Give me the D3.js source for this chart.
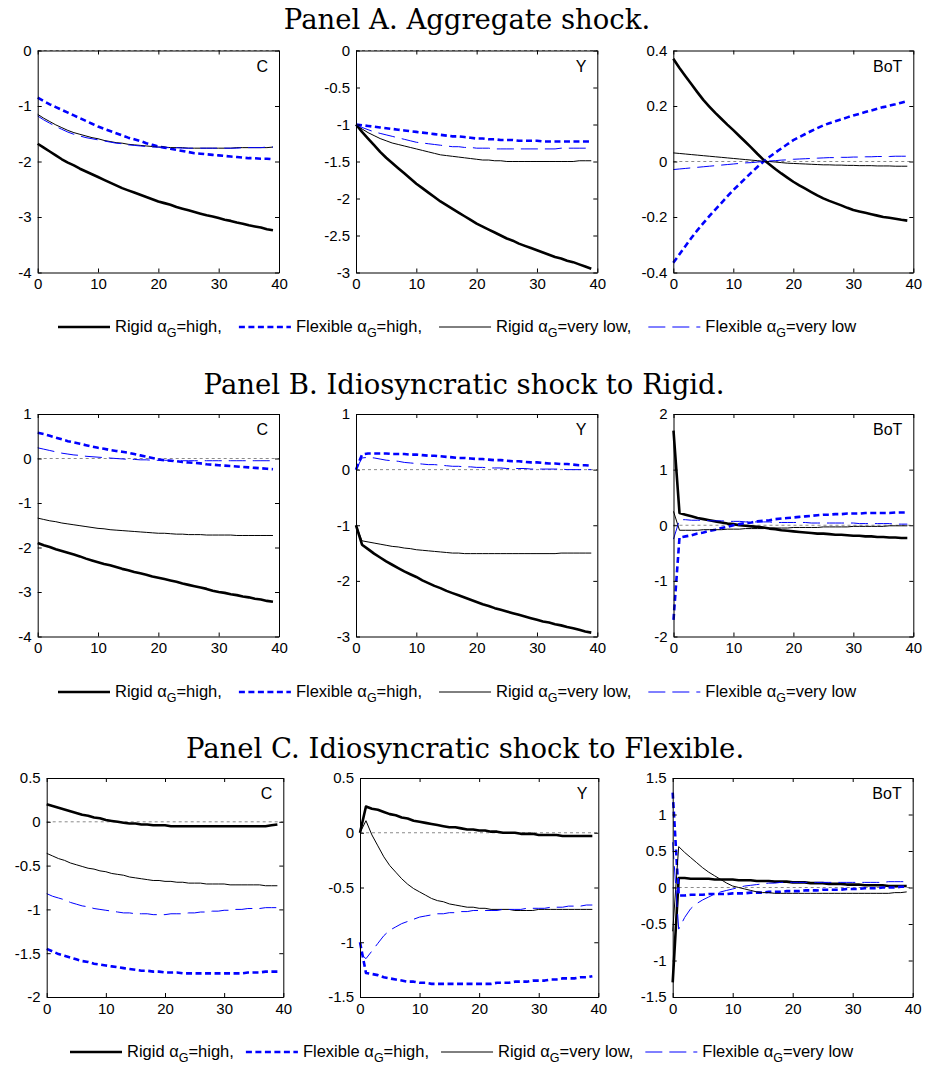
<!DOCTYPE html>
<html><head><meta charset="utf-8">
<script src="https://cdn.jsdelivr.net/npm/d3@7/dist/d3.min.js"></script>
<style>body{margin:0;background:#fff}svg{display:block}</style>
</head><body>
<svg id="chart" width="925" height="1067"></svg>
<script>
// ---------------- DATA ----------------
const periods = [0,1,2,3,4,5,6,7,8,9,10,11,12,13,14,15,16,17,18,19,20,21,22,23,24,25,26,27,28,29,30,31,32,33,34,35,36,37,38,39];
const panelTitles = ["Panel A. Aggregate shock.", "Panel B. Idiosyncratic shock to Rigid.", "Panel C. Idiosyncratic shock to Flexible."];
const variableNames = ["C", "Y", "BoT"];
const seriesNames = ["Rigid", "Flexible", "Rigid", "Flexible"];
const seriesCases = ["=high,", "=high,", "=very low,", "=very low"];
const xTicks = [0, 10, 20, 30, 40];

// y tick labels (first / last = axis limits)
const yTicksA_C = [-4, -3, -2, -1, 0];
const yTicksA_Y = [-3, -2.5, -2, -1.5, -1, -0.5, 0];
const yTicksA_BoT = [-0.4, -0.2, 0, 0.2, 0.4];
const yTicksB_C = [-4, -3, -2, -1, 0, 1];
const yTicksB_Y = [-3, -2, -1, 0, 1];
const yTicksB_BoT = [-2, -1, 0, 1, 2];
const yTicksC_C = [-2, -1.5, -1, -0.5, 0, 0.5];
const yTicksC_Y = [-1.5, -1, -0.5, 0, 0.5];
const yTicksC_BoT = [-1.5, -1, -0.5, 0, 0.5, 1, 1.5];

// Panel A: aggregate shock
const A_C_rigidHigh = [-1.68,-1.75,-1.82,-1.89,-1.96,-2.02,-2.07,-2.13,-2.18,-2.23,-2.28,-2.33,-2.38,-2.43,-2.48,-2.52,-2.56,-2.60,-2.64,-2.68,-2.72,-2.75,-2.78,-2.82,-2.85,-2.88,-2.91,-2.94,-2.97,-2.99,-3.02,-3.05,-3.07,-3.10,-3.12,-3.15,-3.17,-3.19,-3.22,-3.24];
const A_C_flexHigh = [-0.85,-0.91,-0.97,-1.02,-1.07,-1.12,-1.17,-1.22,-1.27,-1.32,-1.37,-1.41,-1.45,-1.49,-1.53,-1.57,-1.60,-1.63,-1.67,-1.70,-1.73,-1.75,-1.77,-1.79,-1.81,-1.83,-1.85,-1.86,-1.87,-1.88,-1.89,-1.90,-1.91,-1.92,-1.93,-1.94,-1.94,-1.95,-1.95,-1.96];
const A_C_rigidLow = [-1.15,-1.22,-1.28,-1.34,-1.39,-1.44,-1.48,-1.51,-1.54,-1.57,-1.59,-1.62,-1.64,-1.66,-1.67,-1.69,-1.70,-1.71,-1.72,-1.73,-1.74,-1.74,-1.75,-1.75,-1.75,-1.76,-1.76,-1.76,-1.76,-1.76,-1.76,-1.76,-1.76,-1.75,-1.75,-1.75,-1.75,-1.75,-1.75,-1.74];
const A_C_flexLow = [-1.18,-1.25,-1.31,-1.37,-1.42,-1.47,-1.51,-1.54,-1.57,-1.59,-1.61,-1.63,-1.65,-1.67,-1.68,-1.70,-1.71,-1.72,-1.73,-1.74,-1.74,-1.75,-1.75,-1.75,-1.76,-1.76,-1.76,-1.76,-1.76,-1.76,-1.76,-1.76,-1.76,-1.76,-1.75,-1.75,-1.75,-1.75,-1.74,-1.74];

const A_Y_rigidHigh = [-1.00,-1.10,-1.19,-1.28,-1.37,-1.45,-1.52,-1.59,-1.66,-1.73,-1.80,-1.86,-1.92,-1.98,-2.04,-2.09,-2.14,-2.19,-2.24,-2.29,-2.34,-2.38,-2.42,-2.46,-2.50,-2.54,-2.57,-2.61,-2.64,-2.67,-2.70,-2.73,-2.76,-2.79,-2.81,-2.84,-2.86,-2.89,-2.92,-2.95];
const A_Y_flexHigh = [-1.00,-1.01,-1.02,-1.03,-1.04,-1.05,-1.06,-1.07,-1.08,-1.09,-1.10,-1.11,-1.12,-1.13,-1.14,-1.15,-1.16,-1.16,-1.17,-1.18,-1.19,-1.19,-1.20,-1.20,-1.21,-1.21,-1.21,-1.22,-1.22,-1.22,-1.22,-1.23,-1.23,-1.23,-1.23,-1.23,-1.23,-1.23,-1.23,-1.23];
const A_Y_rigidLow = [-1.00,-1.06,-1.11,-1.15,-1.19,-1.22,-1.25,-1.27,-1.29,-1.31,-1.33,-1.35,-1.37,-1.39,-1.41,-1.42,-1.43,-1.44,-1.45,-1.46,-1.47,-1.48,-1.48,-1.49,-1.49,-1.50,-1.50,-1.50,-1.50,-1.50,-1.50,-1.50,-1.50,-1.50,-1.50,-1.50,-1.50,-1.49,-1.49,-1.49];
const A_Y_flexLow = [-1.00,-1.04,-1.07,-1.10,-1.12,-1.14,-1.16,-1.18,-1.20,-1.22,-1.24,-1.25,-1.26,-1.27,-1.28,-1.29,-1.30,-1.30,-1.31,-1.31,-1.32,-1.32,-1.32,-1.33,-1.33,-1.33,-1.33,-1.33,-1.33,-1.33,-1.33,-1.33,-1.33,-1.33,-1.32,-1.32,-1.32,-1.32,-1.32,-1.32];

const A_BoT_rigidHigh = [0.370,0.338,0.308,0.279,0.250,0.222,0.198,0.175,0.154,0.133,0.113,0.092,0.071,0.050,0.028,0.007,-0.010,-0.027,-0.043,-0.058,-0.073,-0.086,-0.098,-0.110,-0.122,-0.133,-0.142,-0.150,-0.158,-0.167,-0.175,-0.180,-0.185,-0.190,-0.195,-0.200,-0.203,-0.206,-0.210,-0.213];
const A_BoT_flexHigh = [-0.365,-0.335,-0.305,-0.276,-0.248,-0.222,-0.197,-0.173,-0.150,-0.126,-0.103,-0.082,-0.061,-0.040,-0.020,-0.001,0.016,0.032,0.047,0.062,0.077,0.088,0.099,0.110,0.120,0.130,0.138,0.145,0.152,0.159,0.166,0.172,0.178,0.184,0.190,0.196,0.201,0.206,0.212,0.218];
const A_BoT_rigidLow = [0.031,0.029,0.027,0.025,0.023,0.021,0.019,0.017,0.015,0.013,0.011,0.009,0.007,0.005,0.003,0.001,0.000,-0.002,-0.004,-0.006,-0.007,-0.008,-0.009,-0.010,-0.011,-0.012,-0.012,-0.013,-0.013,-0.014,-0.014,-0.015,-0.015,-0.015,-0.016,-0.016,-0.016,-0.017,-0.017,-0.017];
const A_BoT_flexLow = [-0.029,-0.027,-0.025,-0.023,-0.021,-0.019,-0.017,-0.015,-0.013,-0.011,-0.009,-0.007,-0.005,-0.004,-0.002,0.000,0.002,0.003,0.005,0.006,0.008,0.009,0.010,0.011,0.012,0.013,0.014,0.014,0.015,0.015,0.016,0.016,0.017,0.017,0.018,0.018,0.018,0.019,0.019,0.019];

// Panel B: idiosyncratic shock to Rigid
const B_C_rigidHigh = [-1.90,-1.95,-1.99,-2.04,-2.08,-2.12,-2.16,-2.20,-2.25,-2.29,-2.33,-2.37,-2.40,-2.44,-2.48,-2.51,-2.55,-2.58,-2.61,-2.65,-2.68,-2.71,-2.74,-2.77,-2.81,-2.84,-2.87,-2.90,-2.93,-2.97,-3.00,-3.02,-3.05,-3.07,-3.10,-3.12,-3.15,-3.17,-3.20,-3.22];
const B_C_flexHigh = [0.58,0.55,0.51,0.47,0.43,0.39,0.36,0.33,0.30,0.27,0.24,0.22,0.19,0.17,0.15,0.13,0.10,0.07,0.04,0.01,-0.02,-0.04,-0.05,-0.06,-0.08,-0.09,-0.10,-0.11,-0.13,-0.14,-0.15,-0.16,-0.17,-0.18,-0.19,-0.20,-0.21,-0.22,-0.23,-0.24];
const B_C_rigidLow = [-1.34,-1.37,-1.40,-1.42,-1.45,-1.47,-1.49,-1.51,-1.53,-1.55,-1.57,-1.58,-1.60,-1.61,-1.62,-1.63,-1.64,-1.65,-1.66,-1.67,-1.68,-1.68,-1.69,-1.70,-1.70,-1.71,-1.71,-1.71,-1.72,-1.72,-1.72,-1.72,-1.72,-1.73,-1.73,-1.73,-1.73,-1.73,-1.73,-1.73];
const B_C_flexLow = [0.24,0.21,0.18,0.15,0.12,0.10,0.08,0.07,0.05,0.04,0.03,0.02,0.01,0.00,-0.01,-0.02,-0.02,-0.03,-0.03,-0.04,-0.04,-0.04,-0.04,-0.05,-0.05,-0.05,-0.05,-0.05,-0.05,-0.05,-0.05,-0.05,-0.05,-0.05,-0.05,-0.05,-0.05,-0.05,-0.05,-0.05];

const B_Y_rigidHigh = [-1.00,-1.35,-1.43,-1.51,-1.58,-1.65,-1.71,-1.77,-1.83,-1.88,-1.93,-1.99,-2.04,-2.09,-2.13,-2.18,-2.22,-2.26,-2.30,-2.34,-2.38,-2.42,-2.45,-2.49,-2.52,-2.55,-2.58,-2.61,-2.64,-2.67,-2.70,-2.73,-2.75,-2.78,-2.80,-2.83,-2.85,-2.88,-2.91,-2.93];
const B_Y_flexHigh = [0.00,0.27,0.29,0.29,0.29,0.29,0.28,0.28,0.28,0.27,0.27,0.26,0.25,0.25,0.24,0.23,0.22,0.21,0.21,0.20,0.19,0.19,0.18,0.17,0.17,0.16,0.15,0.15,0.14,0.13,0.13,0.12,0.11,0.11,0.10,0.10,0.09,0.08,0.08,0.07];
const B_Y_rigidLow = [-1.00,-1.28,-1.30,-1.32,-1.34,-1.36,-1.38,-1.39,-1.41,-1.42,-1.44,-1.45,-1.46,-1.47,-1.48,-1.49,-1.50,-1.50,-1.51,-1.51,-1.51,-1.51,-1.51,-1.51,-1.51,-1.51,-1.51,-1.51,-1.51,-1.51,-1.51,-1.51,-1.51,-1.51,-1.50,-1.50,-1.50,-1.50,-1.50,-1.50];
const B_Y_flexLow = [0.00,0.21,0.22,0.21,0.19,0.17,0.16,0.15,0.13,0.12,0.11,0.10,0.09,0.09,0.08,0.07,0.06,0.06,0.05,0.05,0.04,0.04,0.03,0.03,0.03,0.02,0.02,0.02,0.02,0.01,0.01,0.01,0.01,0.01,0.01,0.00,0.00,0.00,0.00,0.00];

const B_BoT_rigidHigh = [1.70,0.22,0.19,0.16,0.13,0.11,0.09,0.07,0.05,0.03,0.02,0.00,-0.01,-0.02,-0.03,-0.04,-0.06,-0.07,-0.09,-0.10,-0.11,-0.12,-0.13,-0.14,-0.15,-0.15,-0.16,-0.17,-0.17,-0.18,-0.19,-0.19,-0.20,-0.20,-0.21,-0.21,-0.22,-0.22,-0.23,-0.23];
const B_BoT_flexHigh = [-1.70,-0.22,-0.20,-0.18,-0.15,-0.13,-0.10,-0.08,-0.05,-0.03,0.00,0.02,0.04,0.05,0.07,0.08,0.09,0.11,0.12,0.13,0.14,0.15,0.16,0.17,0.18,0.19,0.19,0.20,0.20,0.21,0.21,0.21,0.22,0.22,0.22,0.22,0.22,0.23,0.23,0.23];
const B_BoT_rigidLow = [0.25,-0.09,-0.09,-0.09,-0.09,-0.08,-0.08,-0.08,-0.08,-0.07,-0.07,-0.07,-0.06,-0.06,-0.06,-0.06,-0.05,-0.05,-0.05,-0.05,-0.04,-0.04,-0.04,-0.04,-0.04,-0.03,-0.03,-0.03,-0.03,-0.03,-0.02,-0.02,-0.02,-0.02,-0.02,-0.02,-0.01,-0.01,-0.01,-0.01];
const B_BoT_flexLow = [-0.25,0.10,0.10,0.09,0.09,0.09,0.08,0.08,0.08,0.07,0.07,0.07,0.06,0.06,0.06,0.06,0.06,0.05,0.05,0.05,0.05,0.05,0.05,0.04,0.04,0.04,0.04,0.04,0.04,0.04,0.04,0.03,0.03,0.03,0.03,0.03,0.03,0.02,0.02,0.02];

// Panel C: idiosyncratic shock to Flexible
const C_C_rigidHigh = [0.20,0.18,0.16,0.14,0.12,0.10,0.08,0.07,0.05,0.04,0.02,0.01,0.00,-0.01,-0.02,-0.02,-0.03,-0.03,-0.04,-0.04,-0.04,-0.05,-0.05,-0.05,-0.05,-0.05,-0.05,-0.05,-0.05,-0.05,-0.05,-0.05,-0.05,-0.05,-0.05,-0.05,-0.05,-0.05,-0.04,-0.03];
const C_C_flexHigh = [-1.45,-1.48,-1.51,-1.53,-1.55,-1.57,-1.59,-1.60,-1.62,-1.63,-1.64,-1.65,-1.66,-1.67,-1.68,-1.69,-1.70,-1.70,-1.71,-1.71,-1.72,-1.72,-1.72,-1.73,-1.73,-1.73,-1.73,-1.73,-1.73,-1.73,-1.73,-1.73,-1.73,-1.73,-1.72,-1.72,-1.72,-1.71,-1.71,-1.71];
const C_C_rigidLow = [-0.36,-0.39,-0.42,-0.44,-0.47,-0.49,-0.51,-0.53,-0.54,-0.56,-0.57,-0.59,-0.60,-0.61,-0.63,-0.64,-0.65,-0.66,-0.67,-0.67,-0.68,-0.68,-0.69,-0.69,-0.70,-0.70,-0.70,-0.71,-0.71,-0.71,-0.71,-0.72,-0.72,-0.72,-0.72,-0.72,-0.72,-0.73,-0.73,-0.73];
const C_C_flexLow = [-0.82,-0.85,-0.87,-0.89,-0.92,-0.94,-0.96,-0.97,-0.99,-1.00,-1.01,-1.02,-1.03,-1.04,-1.04,-1.05,-1.05,-1.05,-1.06,-1.06,-1.06,-1.05,-1.05,-1.05,-1.04,-1.04,-1.03,-1.03,-1.02,-1.02,-1.01,-1.01,-1.00,-1.00,-0.99,-0.99,-0.99,-0.98,-0.98,-0.98];

const C_Y_rigidHigh = [0.00,0.24,0.22,0.21,0.19,0.17,0.16,0.14,0.13,0.11,0.10,0.09,0.08,0.07,0.06,0.05,0.05,0.04,0.03,0.03,0.02,0.02,0.01,0.01,0.00,0.00,0.00,-0.01,-0.01,-0.01,-0.02,-0.02,-0.02,-0.02,-0.03,-0.03,-0.03,-0.03,-0.03,-0.03];
const C_Y_flexHigh = [-1.00,-1.28,-1.29,-1.30,-1.32,-1.33,-1.34,-1.35,-1.36,-1.36,-1.37,-1.37,-1.38,-1.38,-1.38,-1.38,-1.38,-1.38,-1.38,-1.38,-1.38,-1.38,-1.38,-1.37,-1.37,-1.37,-1.36,-1.36,-1.36,-1.35,-1.35,-1.35,-1.34,-1.34,-1.33,-1.33,-1.33,-1.32,-1.32,-1.31];
const C_Y_rigidLow = [0.00,0.11,-0.02,-0.12,-0.22,-0.30,-0.36,-0.42,-0.47,-0.51,-0.54,-0.57,-0.60,-0.62,-0.63,-0.65,-0.66,-0.67,-0.68,-0.68,-0.69,-0.69,-0.70,-0.70,-0.70,-0.70,-0.71,-0.71,-0.71,-0.71,-0.70,-0.70,-0.70,-0.70,-0.70,-0.70,-0.70,-0.70,-0.70,-0.70];
const C_Y_flexLow = [-1.10,-1.15,-1.08,-1.01,-0.94,-0.89,-0.86,-0.83,-0.81,-0.79,-0.77,-0.76,-0.75,-0.74,-0.74,-0.73,-0.73,-0.72,-0.72,-0.71,-0.71,-0.71,-0.71,-0.71,-0.70,-0.70,-0.70,-0.70,-0.69,-0.69,-0.69,-0.69,-0.68,-0.68,-0.68,-0.67,-0.67,-0.67,-0.66,-0.66];

const C_BoT_rigidHigh = [-1.30,0.13,0.13,0.12,0.12,0.12,0.12,0.11,0.11,0.11,0.11,0.10,0.10,0.10,0.09,0.09,0.09,0.08,0.08,0.08,0.07,0.07,0.07,0.06,0.06,0.06,0.05,0.05,0.05,0.04,0.04,0.04,0.03,0.03,0.03,0.03,0.02,0.02,0.02,0.02];
const C_BoT_flexHigh = [1.30,-0.11,-0.11,-0.10,-0.10,-0.10,-0.09,-0.09,-0.09,-0.09,-0.08,-0.08,-0.08,-0.07,-0.07,-0.07,-0.06,-0.06,-0.06,-0.05,-0.05,-0.05,-0.04,-0.04,-0.04,-0.03,-0.03,-0.03,-0.03,-0.02,-0.02,-0.02,-0.01,-0.01,-0.01,0.00,0.00,0.00,0.01,0.01];
const C_BoT_rigidLow = [-0.60,0.56,0.48,0.41,0.34,0.27,0.21,0.16,0.11,0.06,0.02,0.00,-0.02,-0.04,-0.06,-0.07,-0.07,-0.08,-0.08,-0.08,-0.08,-0.08,-0.08,-0.08,-0.08,-0.08,-0.08,-0.08,-0.08,-0.08,-0.08,-0.08,-0.08,-0.08,-0.08,-0.08,-0.08,-0.07,-0.07,-0.06];
const C_BoT_flexLow = [0.62,-0.57,-0.41,-0.29,-0.22,-0.17,-0.13,-0.09,-0.06,-0.04,-0.02,0.00,0.02,0.03,0.04,0.05,0.06,0.06,0.07,0.07,0.07,0.07,0.07,0.07,0.07,0.07,0.07,0.07,0.07,0.07,0.07,0.07,0.07,0.07,0.07,0.07,0.08,0.08,0.08,0.08];

// ---------------- STRUCTURE ----------------
const panels = [
  { title: panelTitles[0], plots: [
    { name: variableNames[0], ticks: yTicksA_C, series: [A_C_rigidHigh, A_C_flexHigh, A_C_rigidLow, A_C_flexLow] },
    { name: variableNames[1], ticks: yTicksA_Y, series: [A_Y_rigidHigh, A_Y_flexHigh, A_Y_rigidLow, A_Y_flexLow] },
    { name: variableNames[2], ticks: yTicksA_BoT, series: [A_BoT_rigidHigh, A_BoT_flexHigh, A_BoT_rigidLow, A_BoT_flexLow] } ] },
  { title: panelTitles[1], plots: [
    { name: variableNames[0], ticks: yTicksB_C, series: [B_C_rigidHigh, B_C_flexHigh, B_C_rigidLow, B_C_flexLow] },
    { name: variableNames[1], ticks: yTicksB_Y, series: [B_Y_rigidHigh, B_Y_flexHigh, B_Y_rigidLow, B_Y_flexLow] },
    { name: variableNames[2], ticks: yTicksB_BoT, series: [B_BoT_rigidHigh, B_BoT_flexHigh, B_BoT_rigidLow, B_BoT_flexLow] } ] },
  { title: panelTitles[2], plots: [
    { name: variableNames[0], ticks: yTicksC_C, series: [C_C_rigidHigh, C_C_flexHigh, C_C_rigidLow, C_C_flexLow] },
    { name: variableNames[1], ticks: yTicksC_Y, series: [C_Y_rigidHigh, C_Y_flexHigh, C_Y_rigidLow, C_Y_flexLow] },
    { name: variableNames[2], ticks: yTicksC_BoT, series: [C_BoT_rigidHigh, C_BoT_flexHigh, C_BoT_rigidLow, C_BoT_flexLow] } ] }
];

// ---------------- LAYOUT / STYLE ----------------
const rowLayout = [
  { titleX: 467, titleY: 29, top: 50.5, bottom: 272.5, cols: [[37.7, 279], [356, 597.3], [673.3, 913.3]], legendX: 58, legendY: 327, legendGap: 17 },
  { titleX: 464, titleY: 394, top: 414, bottom: 636.5, cols: [[37.7, 279], [356, 597.3], [673.5, 913.3]], legendX: 58, legendY: 692, legendGap: 17 },
  { titleX: 465, titleY: 758, top: 778, bottom: 997, cols: [[46.7, 283.3], [360, 598.3], [672.7, 912.7]], legendX: 70, legendY: 1052, legendGap: 12 }
];
const seriesStyle = [
  { color: "#000000", width: 2.6, dash: null },
  { color: "#0000ff", width: 2.6, dash: "6,3.5" },
  { color: "#000000", width: 1, dash: null },
  { color: "#0000ff", width: 1, dash: "17,7" }
];
const sansFont = "Liberation Sans, Arial, sans-serif";
const serifFont = "DejaVu Serif, Liberation Serif, serif";

const svg = d3.select("#chart");

panels.forEach((panel, r) => {
  const L = rowLayout[r];
  svg.append("text").attr("x", L.titleX).attr("y", L.titleY)
    .attr("text-anchor", "middle").attr("font-family", serifFont)
    .attr("font-size", 27.5).attr("fill", "#000").text(panel.title);

  panel.plots.forEach((p, c) => {
    const [x0, x1] = L.cols[c];
    const x = d3.scaleLinear().domain([xTicks[0], xTicks[xTicks.length - 1]]).range([x0, x1]);
    const y = d3.scaleLinear().domain([p.ticks[0], p.ticks[p.ticks.length - 1]]).range([L.bottom, L.top]);
    const g = svg.append("g");

    // zero reference line
    g.append("line").attr("x1", x0).attr("x2", x1).attr("y1", y(0)).attr("y2", y(0))
      .attr("stroke", "#8a8a8a").attr("stroke-width", 1).attr("stroke-dasharray", "3,3");

    // series
    const line = d3.line().x((d, i) => x(periods[i])).y(d => y(d));
    p.series.forEach((vals, s) => {
      const st = seriesStyle[s];
      g.append("path").datum(vals).attr("d", line).attr("fill", "none")
        .attr("stroke", st.color).attr("stroke-width", st.width)
        .attr("stroke-dasharray", st.dash).attr("stroke-linejoin", "round");
    });

    const fmt = d => String(d);
    const styleAxis = sel => {
      sel.selectAll("text").attr("font-family", sansFont).attr("font-size", 15).attr("fill", "#000");
      sel.selectAll("line").attr("stroke", "#000");
      sel.select(".domain").attr("stroke", "#000");
      sel.attr("font-family", null).attr("font-size", null);
    };
    g.append("g").attr("transform", `translate(${x0},0)`)
      .call(d3.axisLeft(y).tickValues(p.ticks).tickSize(-4).tickSizeOuter(0).tickPadding(6).tickFormat(fmt)).call(styleAxis);
    g.append("g").attr("transform", `translate(${x1},0)`)
      .call(d3.axisRight(y).tickValues(p.ticks).tickSize(-4).tickSizeOuter(0).tickFormat("")).call(styleAxis);
    g.append("g").attr("transform", `translate(0,${L.bottom})`)
      .call(d3.axisBottom(x).tickValues(xTicks).tickSize(-4).tickSizeOuter(0).tickPadding(6).tickFormat(fmt)).call(styleAxis);
    g.append("g").attr("transform", `translate(0,${L.top})`)
      .call(d3.axisTop(x).tickValues(xTicks).tickSize(-4).tickSizeOuter(0).tickFormat("")).call(styleAxis);

    g.append("text").attr("x", x1 - 11).attr("y", L.top + 21).attr("text-anchor", "end")
      .attr("font-family", sansFont).attr("font-size", 16).attr("fill", "#000").text(p.name);
  });

  // legend
  let cx = L.legendX;
  const ly = L.legendY;
  seriesNames.forEach((nm, s) => {
    const st = seriesStyle[s];
    const lineLen = 52;
    svg.append("line").attr("x1", cx).attr("x2", cx + lineLen).attr("y1", ly).attr("y2", ly)
      .attr("stroke", st.color).attr("stroke-width", st.width).attr("stroke-dasharray", st.dash);
    cx += lineLen + 5;
    const t = svg.append("text").attr("x", cx).attr("y", ly + 5)
      .attr("font-family", sansFont).attr("font-size", 16.5).attr("fill", "#000");
    t.append("tspan").text(nm + " \u03B1");
    t.append("tspan").attr("dy", 5).attr("font-size", 12.5).text("G");
    t.append("tspan").attr("dy", -5).text(seriesCases[s]);
    cx += t.node().getComputedTextLength() + L.legendGap;
  });
});
</script>
</body></html>
